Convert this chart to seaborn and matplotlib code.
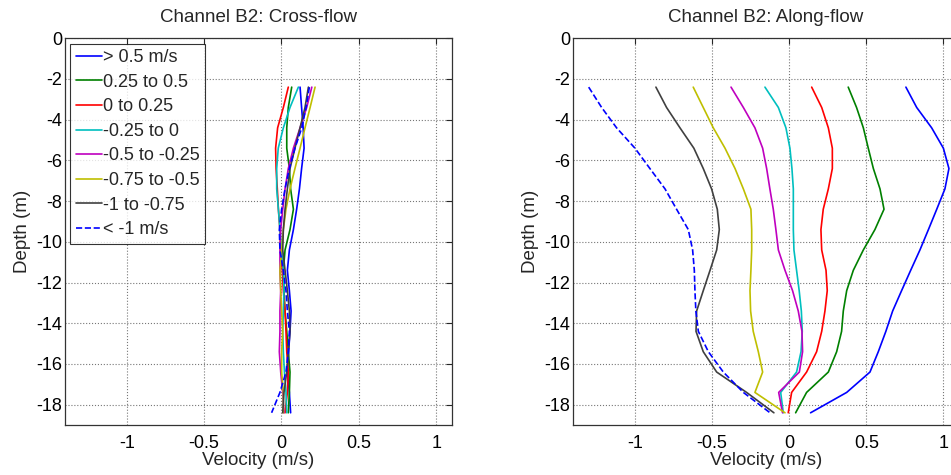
import numpy as np
import pandas as pd
import matplotlib
matplotlib.use('Agg')
import matplotlib.pyplot as plt
import seaborn as sns

# profundidades de los bins (m)
depth = [-2.4, -3.4, -4.4, -5.4, -6.4, -7.4, -8.4, -9.4, -10.4, -11.4,
         -12.4, -13.4, -14.4, -15.4, -16.4, -17.4, -18.4]

labels = ['> 0.5 m/s', '0.25 to 0.5', '0 to 0.25', '-0.25 to 0',
          '-0.5 to -0.25', '-0.75 to -0.5', '-1 to -0.75', '< -1 m/s']
colores = ['#0000ff', '#008000', '#ff0000', '#00bfbf',
           '#bf00bf', '#bfbf00', '#404040', '#0000ff']
estilos = ['-', '-', '-', '-', '-', '-', '-', '--']

# velocidad transversal (cross-flow)
cross_b1 = [0.12, 0.13, 0.14, 0.146, 0.13, 0.116, 0.098, 0.077, 0.051, 0.038, 0.051, 0.062, 0.055, 0.046, 0.038, 0.051, 0.059]
cross_b2 = [0.066, 0.044, 0.034, 0.034, 0.051, 0.059, 0.077, 0.055, 0.023, 0.012, 0.016, 0.023, 0.034, 0.044, 0.055, 0.051, 0.044]
cross_b3 = [0.044, 0.012, -0.025, -0.038, -0.035, -0.027, -0.02, -0.01, -0.005, 0.005, 0.012, 0.023, 0.029, 0.034, 0.044, 0.038, 0.023]
cross_b4 = [0.109, 0.055, 0.012, -0.021, -0.031, -0.031, -0.02, -0.01, 0.001, 0.012, 0.016, 0.012, 0.008, 0.012, 0.019, 0.029, 0.034]
cross_b5 = [0.196, 0.163, 0.12, 0.077, 0.044, 0.023, 0.008, -0.005, -0.01, -0.01, -0.005, -0.01, -0.01, -0.014, -0.005, 0.008, 0.016]
cross_b6 = [0.217, 0.185, 0.152, 0.12, 0.087, 0.055, 0.029, 0.012, 0.001, -0.01, -0.005, 0.001, 0.008, 0.001, 0.001, 0.012, 0.012]
cross_b7 = [0.174, 0.152, 0.12, 0.087, 0.055, 0.038, 0.023, 0.012, 0.008, 0.023, 0.038, 0.051, 0.055, 0.044, 0.034, 0.016, 0.008]
cross_b8 = [0.18, 0.159, 0.131, 0.087, 0.051, 0.023, 0.001, -0.014, -0.01, 0.012, 0.029, 0.038, 0.051, 0.044, 0.029, -0.01, -0.064]

# velocidad longitudinal (along-flow)
along_b1 = [0.757, 0.827, 0.924, 1.0, 1.036, 1.01, 0.957, 0.903, 0.848, 0.788, 0.729, 0.671, 0.627, 0.578, 0.524, 0.373, 0.139]
along_b2 = [0.383, 0.437, 0.481, 0.513, 0.546, 0.589, 0.615, 0.556, 0.481, 0.416, 0.373, 0.351, 0.34, 0.308, 0.254, 0.113, 0.042]
along_b3 = [0.146, 0.211, 0.254, 0.28, 0.28, 0.254, 0.221, 0.206, 0.211, 0.239, 0.247, 0.232, 0.211, 0.178, 0.113, 0.016, -0.006]
along_b4 = [-0.157, -0.07, -0.021, 0.005, 0.018, 0.027, 0.027, 0.027, 0.031, 0.048, 0.065, 0.079, 0.085, 0.077, 0.048, -0.055, -0.038]
along_b5 = [-0.377, -0.297, -0.222, -0.172, -0.146, -0.125, -0.103, -0.086, -0.07, -0.027, 0.022, 0.059, 0.083, 0.087, 0.066, -0.068, -0.043]
along_b6 = [-0.622, -0.557, -0.492, -0.416, -0.351, -0.297, -0.248, -0.243, -0.243, -0.248, -0.254, -0.25, -0.233, -0.2, -0.172, -0.222, -0.027]
along_b7 = [-0.864, -0.795, -0.708, -0.618, -0.557, -0.503, -0.466, -0.453, -0.47, -0.513, -0.557, -0.6, -0.604, -0.557, -0.47, -0.276, -0.099]
along_b8 = [-1.30, -1.216, -1.119, -1.0, -0.903, -0.805, -0.73, -0.654, -0.626, -0.615, -0.611, -0.605, -0.589, -0.524, -0.427, -0.297, -0.124]

cross = [cross_b1, cross_b2, cross_b3, cross_b4, cross_b5, cross_b6, cross_b7, cross_b8]
along = [along_b1, along_b2, along_b3, along_b4, along_b5, along_b6, along_b7, along_b8]

sns.set_style('white')
plt.rcParams['font.family'] = ['Liberation Sans', 'DejaVu Sans']
plt.rcParams['axes.unicode_minus'] = False

fig = plt.figure(figsize=(9.51, 4.75), dpi=100)
ax1 = fig.add_axes([0.0683, 0.1053, 0.4066, 0.8141])
ax2 = fig.add_axes([0.6028, 0.1053, 0.4054, 0.8141])

for ax, datos, titulo in [(ax1, cross, 'Channel B2: Cross-flow'),
                          (ax2, along, 'Channel B2: Along-flow')]:
    for vel, lab, col, ls in zip(datos, labels, colores, estilos):
        df = pd.DataFrame({'vel': vel, 'depth': depth})
        sns.lineplot(data=df, x='vel', y='depth', sort=False, estimator=None,
                     color=col, linestyle=ls, linewidth=1.2, label=lab, ax=ax)
    ax.set_xlim(-1.4, 1.1)
    ax.set_ylim(-19, 0)
    ax.set_xticks([-1, -0.5, 0, 0.5, 1])
    ax.set_xticklabels(['-1', '-0.5', '0', '0.5', '1'])
    ax.set_yticks(np.arange(0, -19, -2))
    ax.grid(True, linestyle=':', color='#777777', linewidth=0.8)
    ax.tick_params(direction='in', length=4, top=True, right=True,
                   labelsize=13, colors='#262626', labelcolor='black')
    ax.tick_params(axis='x', pad=7.5)
    ax.tick_params(axis='y', pad=2)
    for s in ax.spines.values():
        s.set_color('#333333')
        s.set_linewidth(0.9)
    ax.set_xlabel('Velocity (m/s)', fontsize=13.5, labelpad=0)
    ax.set_ylabel('Depth (m)', fontsize=13.5, labelpad=4)
    ax.set_title(titulo, fontsize=13.5, pad=12)

leg = ax1.legend(loc='upper left', fontsize=13, frameon=True, fancybox=False,
                 borderaxespad=0.3, handlelength=1.45, handletextpad=0.05,
                 labelspacing=0.42, borderpad=0.3)
leg.get_frame().set_edgecolor('black')
leg.get_frame().set_linewidth(0.8)
ax2.get_legend().remove()

fig.savefig('out.png', dpi=100)
